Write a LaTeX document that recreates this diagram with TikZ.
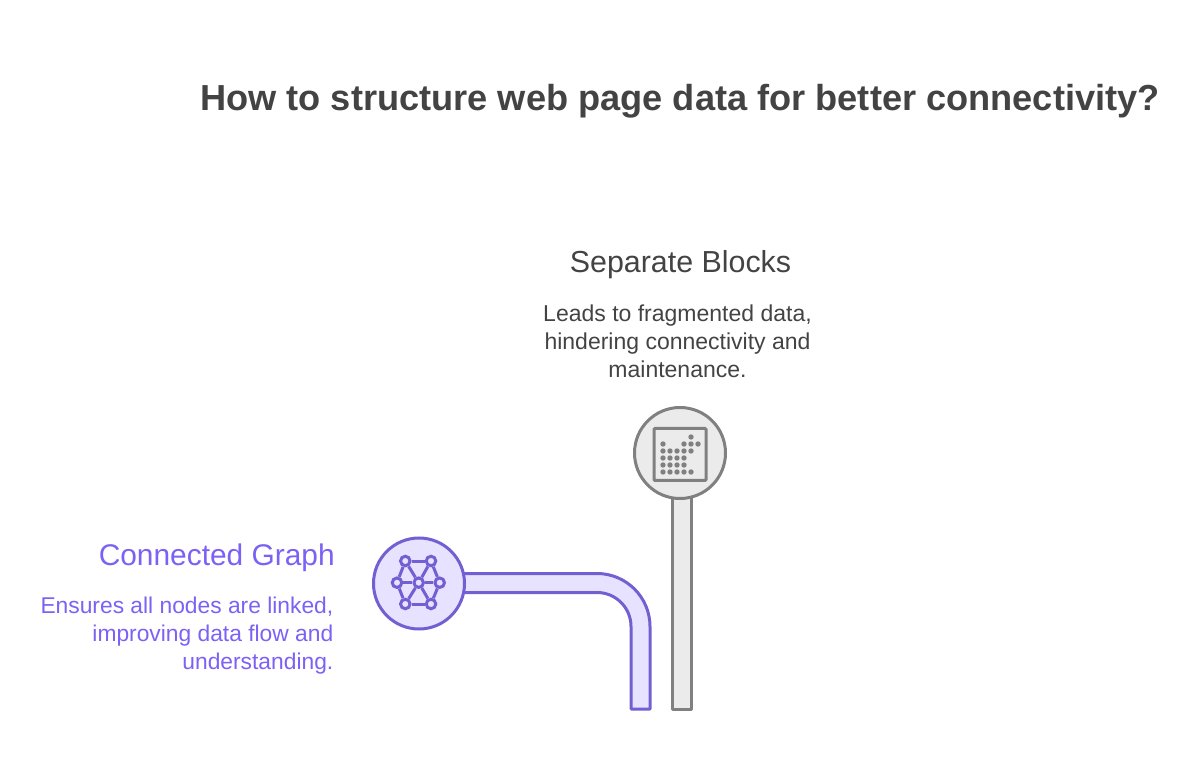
\documentclass[tikz,border=0pt]{standalone}
\usepackage{fontspec}
\setmainfont{Liberation Sans}
\usetikzlibrary{positioning}
\definecolor{mygray}{RGB}{128,128,128}
\definecolor{mygrayfill}{RGB}{235,235,235}
\definecolor{mydark}{RGB}{67,67,67}
\definecolor{mypurple}{RGB}{115,95,210}
\definecolor{mypurplefill}{RGB}{230,226,255}
\definecolor{mypurpletext}{RGB}{124,97,245}
\begin{document}
\begin{tikzpicture}[x=1pt,y=-1pt,
    pipe/.style={draw=#1,line width=3pt,line join=round},
    disc/.style={circle,draw=#1,line width=3pt,inner sep=0pt,minimum size=91pt},
    dot/.style={circle,fill=mygray,inner sep=0pt,minimum size=5.4pt},
    knot/.style={circle,draw=mypurple,fill=mypurplefill,line width=3pt,inner sep=0pt,minimum size=9.5pt},
    head/.style={font=\fontsize{30.4}{30}\selectfont,inner sep=0pt},
    body/.style={font=\fontsize{23}{28}\selectfont,inner sep=0pt},]

    \useasboundingbox (0,0) rectangle (1200,783);

    \node[font=\fontsize{36.2}{38}\selectfont\bfseries,text=mydark,inner sep=0pt] (title) at (680,101.5) {How to structure web page data for better connectivity?};

    \node[head,text=mydark] (blocksT) at (680.5,265) {Separate Blocks};
    \node[body,text=mydark,align=center] (blocksB) at (677.5,341) {Leads to fragmented data,\\hindering connectivity and\\maintenance.};

    \node[head,font=\fontsize{29.9}{30}\selectfont,text=mypurpletext,anchor=east] (graphT) at (335,558) {Connected Graph};
    \node[body,font=\fontsize{22.8}{28}\selectfont,text=mypurpletext,align=right,anchor=east] (graphB) at (333.5,636) {Ensures all nodes are linked,\\improving data flow and\\understanding.};

    % pipes
    \draw[pipe=mygray,fill=mygrayfill] (672,490) -- (691,490) -- (691,709) -- (672,709) -- cycle;
    \draw[pipe=mypurple,fill=mypurplefill] (450,573.5) -- (597,573.5) arc[start angle=-90,end angle=0,radius=53] -- (650,709) -- (631,709) -- (631,626.5) arc[start angle=0,end angle=-90,radius=34] -- (450,592.5) -- cycle;

    % discs
    \node[disc=mygray,fill=mygrayfill] (blocks) at (680,453) {};
    \node[disc=mypurple,fill=mypurplefill] (graph) at (419,583.5) {};

    % blocks icon
    \node[draw=mygray,line width=3pt,rounded corners=1pt,inner sep=0pt,minimum size=52pt] (square) at (680,454.5) {};
    \foreach \x/\y in {691/437,
        663/444,684/444,691/444,698/444,
        663/451,670/451,677/451,684/451,691/451,
        663/458,670/458,677/458,684/458,
        663/465,670/465,677/465,684/465,
        663/472,670/472,677/472,684/472,691/472}
      \node[dot] (d\x-\y) at (\x,\y) {};

    % graph icon
    \node[knot] (n1) at (405.3,561) {};
    \node[knot] (n2) at (431,561) {};
    \node[knot] (n3) at (397,582.7) {};
    \node[knot] (n4) at (418.7,582.7) {};
    \node[knot] (n5) at (439.7,582.7) {};
    \node[knot] (n6) at (405.3,604) {};
    \node[knot] (n7) at (431,604) {};
    \foreach \a/\b in {n1/n2,n1/n3,n1/n4,n2/n4,n2/n5,n3/n4,n4/n5,n3/n6,n4/n6,n4/n7,n5/n7,n6/n7}
      \draw[draw=mypurple,line width=3pt] (\a) -- (\b);

\end{tikzpicture}
\end{document}
